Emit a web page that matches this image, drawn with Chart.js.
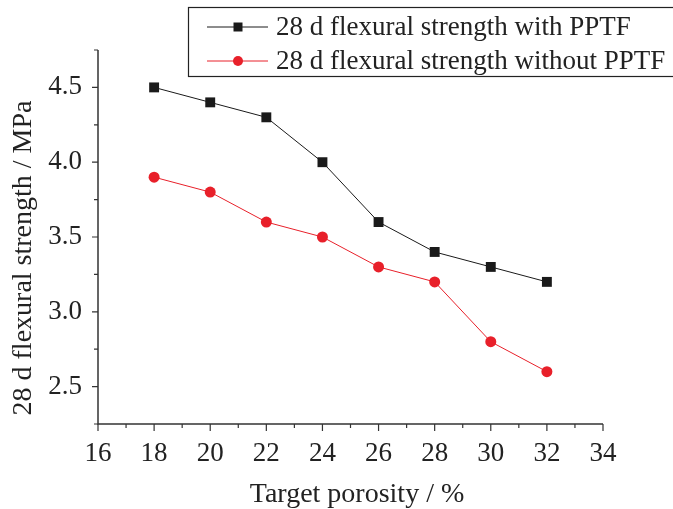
<!DOCTYPE html>
<html>
<head>
<meta charset="utf-8">
<script src="https://cdn.jsdelivr.net/npm/chart.js@4"></script>
<style>
  html, body { margin: 0; padding: 0; background: #fff; }
  #wrap { width: 673px; height: 509px; }
</style>
</head>
<body>
<div id="wrap"><canvas id="myChart" width="673" height="509"></canvas></div>
<script>
// values
var porosity = [18, 20, 22, 24, 26, 28, 30, 32];
var withPPTF = [4.5, 4.4, 4.3, 4.0, 3.6, 3.4, 3.3, 3.2];
var withoutPPTF = [3.9, 3.8, 3.6, 3.5, 3.3, 3.2, 2.8, 2.6];
var seriesNames = ['28 d flexural strength with PPTF', '28 d flexural strength without PPTF'];
var xTicks = [16, 18, 20, 22, 24, 26, 28, 30, 32, 34];
var yTicks = [2.5, 3.0, 3.5, 4.0, 4.5];
var xTitle = 'Target porosity / %';
var yTitle = '28 d flexural strength / MPa';

const FONT = '"Liberation Serif", "Times New Roman", serif';
const AXIS = '#333333';
const TEXT = '#222222';

function toPoints(xs, ys) {
    return xs.map((x, i) => ({ x: x, y: ys[i] }));
}

// axis lines, major/minor ticks, axis titles
const axisPlugin = {
    id: 'axisPlugin',
    afterDraw(chart) {
        const c = chart.ctx;
        const xs = chart.scales.x, ys = chart.scales.y;
        const left = xs.left, bottom = ys.bottom;
        c.save();
        c.strokeStyle = AXIS;
        c.lineWidth = 1.5;
        c.beginPath();
        c.moveTo(left, ys.top);
        c.lineTo(left, bottom);
        c.lineTo(xs.right, bottom);
        c.stroke();
        c.lineWidth = 1.2;
        c.beginPath();
        for (let v = 16; v <= 34; v += 1) {
            const px = xs.getPixelForValue(v);
            const len = v % 2 === 0 ? 7 : 4;
            c.moveTo(px, bottom);
            c.lineTo(px, bottom + len);
        }
        for (let v = 2.25; v <= 4.76; v += 0.25) {
            const py = ys.getPixelForValue(v);
            const major = Math.abs(v * 2 - Math.round(v * 2)) < 1e-6;
            c.moveTo(left, py);
            c.lineTo(left - (major ? 6 : 4), py);
        }
        c.stroke();

        c.fillStyle = TEXT;
        c.font = '28px ' + FONT;
        c.textAlign = 'center';
        c.textBaseline = 'middle';
        c.fillText(xTitle, 357, 495);
        c.translate(24, 258);
        c.rotate(-Math.PI / 2);
        c.fillText(yTitle, 0, 0);
        c.restore();
    }
};

// boxed legend in the top right
const legendBox = {
    id: 'legendBox',
    afterDraw(chart) {
        const c = chart.ctx;
        c.save();
        c.strokeStyle = '#222';
        c.lineWidth = 1.2;
        c.strokeRect(188.5, 7.5, 500, 69);
        c.font = '27px ' + FONT;
        c.textBaseline = 'middle';
        chart.data.datasets.forEach((ds, i) => {
            const y = 27 + i * 34;
            c.strokeStyle = ds.borderColor;
            c.lineWidth = 1;
            c.beginPath();
            c.moveTo(207, y);
            c.lineTo(268, y);
            c.stroke();
            c.fillStyle = ds.pointBackgroundColor;
            c.beginPath();
            if (ds.pointStyle === 'rect') {
                c.rect(233.5, y - 4.5, 9, 9);
            } else {
                c.arc(238, y, 5, 0, Math.PI * 2);
            }
            c.fill();
            c.fillStyle = TEXT;
            c.fillText(ds.label, 276, y + 1);
        });
        c.restore();
    }
};

const ctx = document.getElementById('myChart').getContext('2d');

const data = {
    datasets: [{
        label: seriesNames[0],
        data: toPoints(porosity, withPPTF),
        borderColor: '#1a1a1a',
        backgroundColor: '#1a1a1a',
        pointBackgroundColor: '#1a1a1a',
        pointBorderWidth: 0,
        borderWidth: 1,
        pointStyle: 'rect',
        pointRadius: 7,
    }, {
        label: seriesNames[1],
        data: toPoints(porosity, withoutPPTF),
        borderColor: '#e8202a',
        backgroundColor: '#e8202a',
        pointBackgroundColor: '#e8202a',
        pointBorderWidth: 0,
        borderWidth: 1,
        pointStyle: 'circle',
        pointRadius: 5.5,
    }]
};

const config = {
    type: 'line',
    data: data,
    options: {
        responsive: false,
        animation: false,
        layout: { padding: { top: 50, right: 70, left: 0, bottom: 0 } },
        plugins: {
            legend: { display: false },
            tooltip: { enabled: false },
        },
        scales: {
            x: {
                type: 'linear',
                min: 16,
                max: 34,
                afterBuildTicks: (s) => { s.ticks = xTicks.map(v => ({ value: v })); },
                afterFit: (s) => { s.height = 85; },
                grid: { display: false, drawTicks: false },
                border: { display: false },
                ticks: { color: TEXT, font: { family: FONT, size: 27 }, padding: 14, maxRotation: 0 },
            },
            y: {
                min: 2.25,
                max: 4.75,
                afterBuildTicks: (s) => { s.ticks = yTicks.map(v => ({ value: v })); },
                afterFit: (s) => { s.width = 98; },
                grid: { display: false, drawTicks: false },
                border: { display: false },
                ticks: { color: TEXT, font: { family: FONT, size: 27 }, padding: 16, callback: (v) => v.toFixed(1) },
            }
        }
    },
    plugins: [axisPlugin, legendBox]
};

const myChart = new Chart(ctx, config);
</script>
</body>
</html>
